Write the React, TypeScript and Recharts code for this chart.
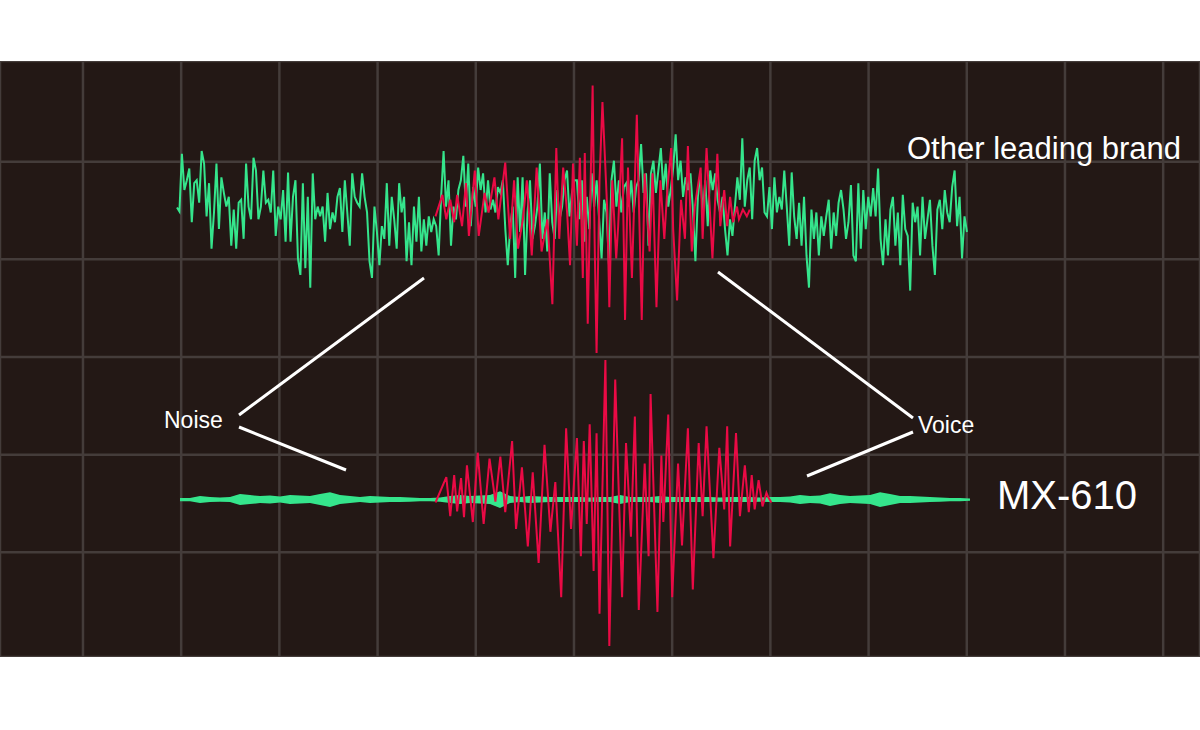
import { Line, Area, XAxis, YAxis, CartesianGrid, ComposedChart } from 'recharts'

// time axis: 100 units per division, amplitude axis: 100 units per division
const GRID_T = [0, 100, 200, 300, 400, 500, 600, 700, 800, 900, 1000, 1100]
const GRID_V = [0, 100, 200, 300, 400, 500]

const TOP_BASE = 456
const BOT_BASE = 154

// "Other leading brand" – broadband noise, evenly sampled
const TOP_NOISE_START = 95.7
const TOP_NOISE_END = 900.2
const TOP_NOISE = [
  -3, -7, 52, 15, 25, 37, -18, 22, 25, 2, 55, 42, -12, 22, -45, -8, 42, -25, 28, 12, -2, 8, -42, -5, -45, 2, 5, -35, 42, -2,
  -15, 48, 35, -15, -2, 35, 2, 5, -8, 35, -32, -2, -15, 15, -38, 33, -38, 8, 25, -55, -72, 22, -65, 8, -85, 32, -15, -2, -12, -2,
  -38, 12, -25, -8, -18, 8, 17, -28, 25, -8, -42, 32, 8, 2,
  -2, 32, 8, -8, -58, -75, -2, -28, -62, -22, -35, 22, -42, 8, -15, -45, 22, -8, 8, -58, -18, -62, -2, -38, 8, -48, -15, -42, -12, -28,
  -15, -22, -52, 8, 55, -2, 25, -42, -2, -15, 15, 25, 50, -2, 42, -22, 18, -2, 38, 15, 32, -8, 25, -5, 5, -8, 18, 12, 25, -25,
  -62, -22, -2, -75, 28, -28, 28, -72, -8, 25, -35, -22, -2, 42, -35, -8, -48, 32, -18, -35, 15, -15, -2, 25, 35, -12, 12, 25,
  25, -15, 25, -38, 8, -25, 32, -2, 25, -15, -55, 5, -8, -62, 25, 45, -2, 25, -8, 18, 22, -2, 25, -8, 18, 25, 62, 12, 32, -42,
  32, 45, 12, 35, 58, 15, 42, -2, 15, 38, 72, 25, 45, 8, 28, 15, 32, -5, -58, 8, 32, -8, 25, -22, 35, 15, 32, 5, -8, 8,
  -25, -52, -15, -32, -2, 28, 5, 68, -2, 25, 38, -15, 45, 58, 25, 38, -8,
  -12, 18, -25, 28, -8, 8, -5, 35, -2, -42, 33, -12, -35, 2, -42, 8, -52, -85, -5, -35, -8, -52, -12, -32, -12, 5, -45, -8, -32, 2,
  15, -5, -35, -18, 20, -52, -58, 22, -45, 15, -25, 8, -12, 17, -12, 37, -35, -62, -15, -52, -5, 8, -42, -8, -62, 10, -25, -32, -88, 2,
  -18, -2, -52, 8, -35, -15, 5, -42, -72, -5, 5, -25, 15, -8, -18, 18, 35, -22, 8, -55, -12, -28,
]

// "Other leading brand" – voice
const TOP_VOICE_T = [
  359, 366, 370, 374, 378, 381, 386, 390, 393, 399, 403, 409, 413, 419, 423, 430, 435, 439, 443, 448,
  452, 457, 462, 467, 473, 478, 482, 485, 489, 493, 496, 499, 503, 506, 509, 511, 514, 519, 521, 523,
  526, 529, 534, 536, 539, 543, 545, 549, 552, 555, 559, 564, 569, 572, 577, 580, 584, 588, 592, 595,
  599, 601, 605, 609, 613, 616, 620, 623, 629, 631, 635, 641, 646, 649, 653, 656, 659, 662, 666, 668,
  672, 676, 679,
]
const TOP_VOICE_A = [
  -12, 10, -15, 5, -18, 10, -22, 22, -32, 35, -32, 12, -8, 28, -15, 43, -35, 25, -45, -15,
  25, -52, 38, -48, -15, -102, 58, -35, 38, -8, -62, 42, -42, 48, -75, 53, -122, 122, -35, -152,
  25, 105, -8, -105, 25, -55, -22, 68, -118, 38, -75, 92, -118, 32, -48, 32, -105, 25, -35, 15,
  58, -25, -98, 5, -35, 60, -48, -2, 38, -35, 58, -55, 52, -22, 15, -22, 8, -18, -2, -15,
  -5, -12, -5,
]

// MX-610 – residual noise envelope (half thickness), evenly sampled
const BOT_NOISE_START = 98.8
const BOT_NOISE_END = 903.3
const BOT_NOISE_ENV = [
  1, 1, 3, 2, 1.5, 2, 5, 4, 3, 3.5, 2.5, 4, 3.5, 3, 5, 7, 4, 3, 2, 3,
  2.5, 2, 2, 1.5, 1, 1, 1.5, 3, 4, 3, 3.5, 4, 8, 3, 2, 3, 2.5, 2, 2, 2,
  2, 1.5, 2, 2, 4, 2, 2, 2, 3, 2, 2, 2, 2, 2, 1.5, 2, 2, 2, 1.5, 2,
  2, 2.5, 4, 3, 3.5, 6, 4, 3, 3.5, 4, 7, 5, 3, 3, 2.5, 2, 1.5, 1, 1, 0.5,
]

// MX-610 – voice
const BOT_VOICE_T = [
  359, 370, 374, 378, 381, 385, 388, 391, 397, 402, 408, 414, 420, 425, 430, 437, 441, 447, 453, 458,
  464, 470, 476, 481, 487, 492, 497, 503, 507, 510, 513, 516, 520, 523, 526, 532, 536, 542, 549, 553,
  558, 562, 566, 572, 576, 578, 585, 589, 591, 596, 600, 606, 610, 616, 621, 627, 631, 635, 642, 648,
  653, 656, 659, 665, 669, 674, 678, 681, 684, 688, 692, 696, 698, 701,
]
const BOT_VOICE_A = [
  -3, 23, -17, 25, -12, 22, -18, 35, -23, 48, -25, 42, -2, 44, -13, 60, -30, 33, -48, 28,
  -65, 56, -33, 18, -100, 73, -30, 63, -58, 60, -25, 77, -73, 68, -117, 143, -150, 123, -100, 58,
  -38, 85, -113, 37, -58, 108, -115, 45, -23, 87, -100, 37, -47, 73, -92, 58, -17, 75, -60, 53,
  -10, 75, -48, 68, -17, 35, -13, 25, -10, 20, -7, 7, 2, -3,
]

const GREEN = '#35e58c'
const RED = '#ea0a45'
const BG = '#231815'
const GRID = '#443c3a'

const evenly = (vals: number[], t0: number, t1: number) =>
  vals.map((v, i) => ({ t: t0 + (i * (t1 - t0)) / (vals.length - 1), v }))

const topNoiseData = evenly(TOP_NOISE, TOP_NOISE_START, TOP_NOISE_END).map(p => ({ t: p.t, v: TOP_BASE + p.v }))
const topVoiceData = TOP_VOICE_T.map((t, i) => ({ t, v: TOP_BASE + TOP_VOICE_A[i] }))
const botNoiseData = evenly(BOT_NOISE_ENV, BOT_NOISE_START, BOT_NOISE_END).map(p => ({
  t: p.t,
  band: [BOT_BASE - p.v - 0.6, BOT_BASE + p.v + 0.6],
}))
const botVoiceData = BOT_VOICE_T.map((t, i) => ({ t, v: BOT_BASE + BOT_VOICE_A[i] }))

const W = 1200
const H = 596

export default function App() {
  return (
    <div style={{ position: 'absolute', left: 0, top: 0, width: 1200, height: 730, background: '#fff',
      fontFamily: '"Liberation Sans", Arial, sans-serif' }}>
      <div style={{ position: 'absolute', left: 0, top: 61, width: W, height: H, background: BG }}>
        <ComposedChart width={W} height={H} margin={{ top: 0, right: 0, bottom: 0, left: 0 }}>
          <XAxis type="number" dataKey="t" domain={[-84.5, 1137.5]} ticks={GRID_T} hide allowDataOverflow />
          <YAxis type="number" domain={[-7.2, 603.1]} ticks={GRID_V} hide allowDataOverflow />
          <CartesianGrid stroke={GRID} strokeWidth={2.5} />
          <Line data={topNoiseData} dataKey="v" type="linear" stroke={GREEN} strokeWidth={2}
            dot={false} activeDot={false} isAnimationActive={false} />
          <Line data={topVoiceData} dataKey="v" type="linear" stroke={RED} strokeWidth={2}
            dot={false} activeDot={false} isAnimationActive={false} />
          <Area data={botNoiseData} dataKey="band" type="linear" stroke="none" fill={GREEN} fillOpacity={1}
            activeDot={false} isAnimationActive={false} />
          <Line data={botVoiceData} dataKey="v" type="linear" stroke={RED} strokeWidth={2}
            dot={false} activeDot={false} isAnimationActive={false} />
        </ComposedChart>
      </div>
      <svg width={1200} height={730} style={{ position: 'absolute', left: 0, top: 0, pointerEvents: 'none' }}>
        <g stroke="#fff" strokeWidth={3}>
          <line x1={239} y1={415} x2={424} y2={278} />
          <line x1={239} y1={427} x2={346} y2={470} />
          <line x1={718} y1={272} x2={913} y2={418} />
          <line x1={807} y1={476} x2={913} y2={432} />
        </g>
        <g fill="#fff" fontFamily='"Liberation Sans", Arial, sans-serif'>
          <text x={907} y={159} fontSize={31}>Other leading brand</text>
          <text x={997} y={509} fontSize={40}>MX-610</text>
          <text x={164} y={428} fontSize={23}>Noise</text>
          <text x={918} y={433} fontSize={23}>Voice</text>
        </g>
      </svg>
    </div>
  )
}
